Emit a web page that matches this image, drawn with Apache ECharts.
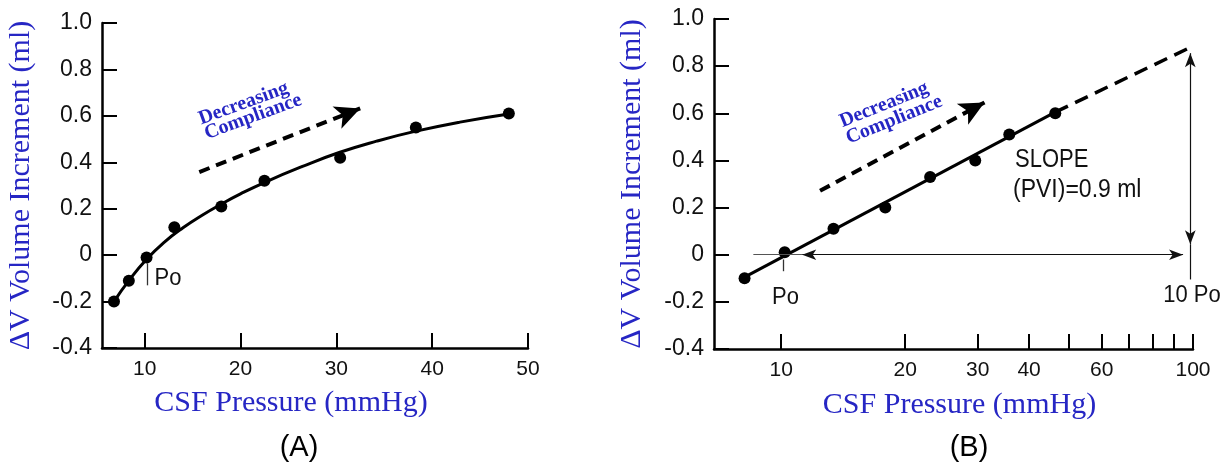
<!DOCTYPE html>
<html><head><meta charset="utf-8">
<script src="https://cdn.jsdelivr.net/npm/echarts@6/dist/echarts.min.js"></script>
<style>html,body{margin:0;padding:0;background:#fff}#c{width:1228px;height:467px}</style>
</head><body><div id="c"></div>
<script>
// ---------- Panel A (linear pressure axis) ----------
const aPressure = [6.8, 8.35, 10.2, 13.1, 18.0, 22.5, 30.4, 38.3, 48.0];
const aVolume   = [-0.20, -0.11, -0.01, 0.12, 0.21, 0.32, 0.42, 0.55, 0.61];
const aCurvePressure = [6.8, 8.35, 10.2, 12.0, 14.0, 16.0, 18.0, 20.0, 22.6, 26.4, 30.3, 34.2, 38.2, 42.9, 48.0];
const aCurveVolume   = [-0.200, -0.110, -0.018, 0.054, 0.118, 0.172, 0.220, 0.264, 0.315, 0.381, 0.442, 0.491, 0.533, 0.573, 0.608];
const aXTicks  = [10, 20, 30, 40, 50];
const aXLabels = ['10', '20', '30', '40', '50'];

// ---------- Panel B (log pressure axis) ----------
const bPressure = [8.15, 10.2, 13.4, 17.9, 23.0, 29.6, 35.8, 46.3];
const bVolume   = [-0.10, 0.01, 0.11, 0.20, 0.33, 0.40, 0.51, 0.60];
const bFitSolidPressure  = [8.15, 46.3];
const bFitSolidVolume    = [-0.095, 0.605];
const bFitDashedPressure = [46.3, 100];
const bFitDashedVolume   = [0.605, 0.885];
const bXTicks       = [10, 20, 30, 40, 50, 60, 70, 80, 90, 100];
const bXLabelValues = [10, 20, 30, 40, 60, 100];
const bXLabels      = ['10', '20', '30', '40', '60', '100'];

// ---------- shared volume axis ----------
const yTicks  = [-0.4, -0.2, 0, 0.2, 0.4, 0.6, 0.8, 1.0];
const yLabels = ['-0.4', '-0.2', '0', '0.2', '0.4', '0.6', '0.8', '1.0'];

const SANS = "'Liberation Sans', Arial, sans-serif";
const SERIF = "'Liberation Serif', 'DejaVu Serif', serif";
const BLUE = '#2626c4';
const INK = '#111';

function zip(xs, ys) { return xs.map((x, i) => [x, ys[i]]); }
function labelFor(v, vals, labs) {
  for (let i = 0; i < vals.length; i++) if (Math.abs(vals[i] - v) < 1e-6 * Math.max(1, Math.abs(v))) return labs[i];
  return '';
}

function yAxisCfg(gi, gap) {
  return {
    type: 'value', gridIndex: gi, min: -0.4, max: 1.0,
    name: 'ΔV Volume Increment (ml)', nameLocation: 'middle', nameGap: gap, nameMoveOverlap: false,
    nameTextStyle: { fontFamily: SERIF, fontSize: 30, color: BLUE },
    axisLine: { show: true, onZero: false, lineStyle: { color: '#000', width: 2.5 } },
    axisTick: { show: true, inside: true, length: 15, lineStyle: { color: '#000', width: 2 }, customValues: yTicks },
    axisLabel: { customValues: yTicks, formatter: v => labelFor(v, yTicks, yLabels),
                 fontFamily: SANS, fontSize: 23, color: INK, margin: 10 },
    splitLine: { show: false }
  };
}

const option = {
  backgroundColor: '#fff',
  animation: false,
  grid: [
    { left: 102, top: 23, width: 426, height: 325 },
    { left: 714, top: 19, width: 479, height: 330 }
  ],
  xAxis: [
    {
      type: 'value', gridIndex: 0, min: 5.55, max: 50,
      name: 'CSF Pressure (mmHg)', nameLocation: 'middle', nameGap: 40, nameMoveOverlap: false,
      nameTextStyle: { fontFamily: SERIF, fontSize: 30, color: BLUE, padding: [0, 48, 0, 0] },
      axisLine: { show: true, onZero: false, lineStyle: { color: '#000', width: 2.5 } },
      axisTick: { show: true, inside: true, length: 15, lineStyle: { color: '#000', width: 2 }, customValues: aXTicks },
      axisLabel: { customValues: aXTicks, formatter: v => labelFor(v, aXTicks, aXLabels),
                   fontFamily: SANS, fontSize: 21, color: INK, margin: 11 },
      splitLine: { show: false }
    },
    {
      type: 'log', logBase: 10, gridIndex: 1, min: 6.87, max: 100,
      name: 'CSF Pressure (mmHg)', nameLocation: 'middle', nameGap: 41, nameMoveOverlap: false,
      nameTextStyle: { fontFamily: SERIF, fontSize: 30, color: BLUE, padding: [0, 0, 0, 12] },
      axisLine: { show: true, onZero: false, lineStyle: { color: '#000', width: 2.5 } },
      axisTick: { show: true, inside: true, length: 15, lineStyle: { color: '#000', width: 2 }, customValues: bXTicks },
      axisLabel: { customValues: bXLabelValues, formatter: v => labelFor(v, bXLabelValues, bXLabels),
                   fontFamily: SANS, fontSize: 21, color: INK, margin: 11 },
      splitLine: { show: false }, minorTick: { show: false }
    }
  ],
  yAxis: [yAxisCfg(0, 66), yAxisCfg(1, 67)],
  series: [
    { type: 'line', xAxisIndex: 0, yAxisIndex: 0, data: zip(aCurvePressure, aCurveVolume),
      smooth: 0.5, symbol: 'none', lineStyle: { color: '#000', width: 3 }, z: 2 },
    { type: 'scatter', xAxisIndex: 0, yAxisIndex: 0, data: zip(aPressure, aVolume),
      symbolSize: 12, itemStyle: { color: '#000', opacity: 1 }, z: 3,
      markLine: { silent: true, animation: false, label: { show: false }, symbol: ['none', 'none'],
        data: [
          [ { coord: [15.7, 0.358], symbol: 'none', lineStyle: { type: [11, 7], width: 4, color: '#000', curveness: 0.145 } },
            { coord: [32.49, 0.632], symbol: 'arrow', symbolSize: [18, 25] } ],
          [ { coord: [10.3, -0.035], symbol: 'none', lineStyle: { type: 'solid', width: 1.3, color: '#333' } },
            { coord: [10.3, -0.13], symbol: 'none' } ]
        ] } },
    { type: 'line', xAxisIndex: 1, yAxisIndex: 1, data: zip(bFitSolidPressure, bFitSolidVolume),
      symbol: 'none', lineStyle: { color: '#000', width: 3 }, z: 2 },
    { type: 'line', xAxisIndex: 1, yAxisIndex: 1, data: zip(bFitDashedPressure, bFitDashedVolume),
      symbol: 'none', lineStyle: { color: '#000', width: 3.5, type: [14, 8] }, z: 2 },
    { type: 'scatter', xAxisIndex: 1, yAxisIndex: 1, data: zip(bPressure, bVolume),
      symbolSize: 12, itemStyle: { color: '#000', opacity: 1 }, z: 3,
      markLine: { silent: true, animation: false, label: { show: false }, symbol: ['none', 'none'],
        data: [
          [ { coord: [12.43, 0.271], symbol: 'none', lineStyle: { type: [11, 7], width: 4, color: '#000' } },
            { coord: [31.17, 0.646], symbol: 'arrow', symbolSize: [18, 25] } ],
          [ { coord: [8.56, 0], symbol: 'none', lineStyle: { type: 'solid', width: 1.2, color: '#555' } },
            { coord: [11.25, 0], symbol: 'none' } ],
          [ { coord: [11.25, 0], symbol: 'arrow', symbolSize: [8, 14], lineStyle: { type: 'solid', width: 1.2, color: '#111' } },
            { coord: [94.6, 0], symbol: 'arrow', symbolSize: [8, 14] } ],
          [ { coord: [98.5, 0.855], symbol: 'arrow', symbolSize: [8, 14], lineStyle: { type: 'solid', width: 1.2, color: '#111' } },
            { coord: [98.5, 0.0445], symbol: 'arrow', symbolSize: [8, 14] } ],
          [ { coord: [98.5, 0.0445], symbol: 'none', lineStyle: { type: 'solid', width: 1.2, color: '#111' } },
            { coord: [98.5, -0.105], symbol: 'none' } ],
          [ { coord: [10.1, -0.02], symbol: 'none', lineStyle: { type: 'solid', width: 1.3, color: '#333' } },
            { coord: [10.1, -0.07], symbol: 'none' } ]
        ] } }
  ]
};

const chart = echarts.init(document.getElementById('c'), null, { renderer: 'canvas' });
chart.setOption(option);

// annotation texts anchored in data coordinates of each panel
const notes = [
  { g: 0, at: [11.04, -0.098], text: 'Po', align: 'left', family: SANS, size: 22, color: INK, sy: 1.1 },
  { g: 0, at: [20.33, 0.653], text: 'Decreasing', align: 'center', family: SERIF, size: 20, weight: 'bold', color: BLUE, rot: 20 },
  { g: 0, at: [21.32, 0.596], text: 'Compliance', align: 'center', family: SERIF, size: 20, weight: 'bold', color: BLUE, rot: 20 },
  { g: 1, at: [10.25, -0.182], text: 'Po', align: 'center', family: SANS, size: 22, color: INK, sy: 1.1 },
  { g: 1, at: [99.4, -0.174], text: '10 Po', align: 'center', family: SANS, size: 22, color: INK, sy: 1.1 },
  { g: 1, at: [36.98, 0.403], text: 'SLOPE', align: 'left', family: SANS, size: 22, color: INK, sy: 1.2 },
  { g: 1, at: [36.56, 0.2755], text: '(PVI)=0.9 ml', align: 'left', family: SANS, size: 23, color: INK, sy: 1.1 },
  { g: 1, at: [17.78, 0.636], text: 'Decreasing', align: 'center', family: SERIF, size: 20, weight: 'bold', color: BLUE, rot: 22 },
  { g: 1, at: [18.81, 0.572], text: 'Compliance', align: 'center', family: SERIF, size: 20, weight: 'bold', color: BLUE, rot: 22 }
];
const graphics = notes.map(n => {
  const p = chart.convertToPixel({ gridIndex: n.g }, n.at);
  return { type: 'text', x: p[0], y: p[1], rotation: (n.rot || 0) * Math.PI / 180, scaleY: n.sy || 1, silent: true,
    style: { text: n.text, fill: n.color, fontFamily: n.family, fontSize: n.size, fontWeight: n.weight || 'normal',
             align: n.align, verticalAlign: 'middle' } };
});
graphics.push({ type: 'text', x: 299, y: 448, silent: true,
  style: { text: '(A)', fill: '#000', fontFamily: SANS, fontSize: 29, align: 'center', verticalAlign: 'middle' } });
graphics.push({ type: 'text', x: 969, y: 448, silent: true,
  style: { text: '(B)', fill: '#000', fontFamily: SANS, fontSize: 29, align: 'center', verticalAlign: 'middle' } });
chart.setOption({ graphic: graphics });
</script></body></html>
